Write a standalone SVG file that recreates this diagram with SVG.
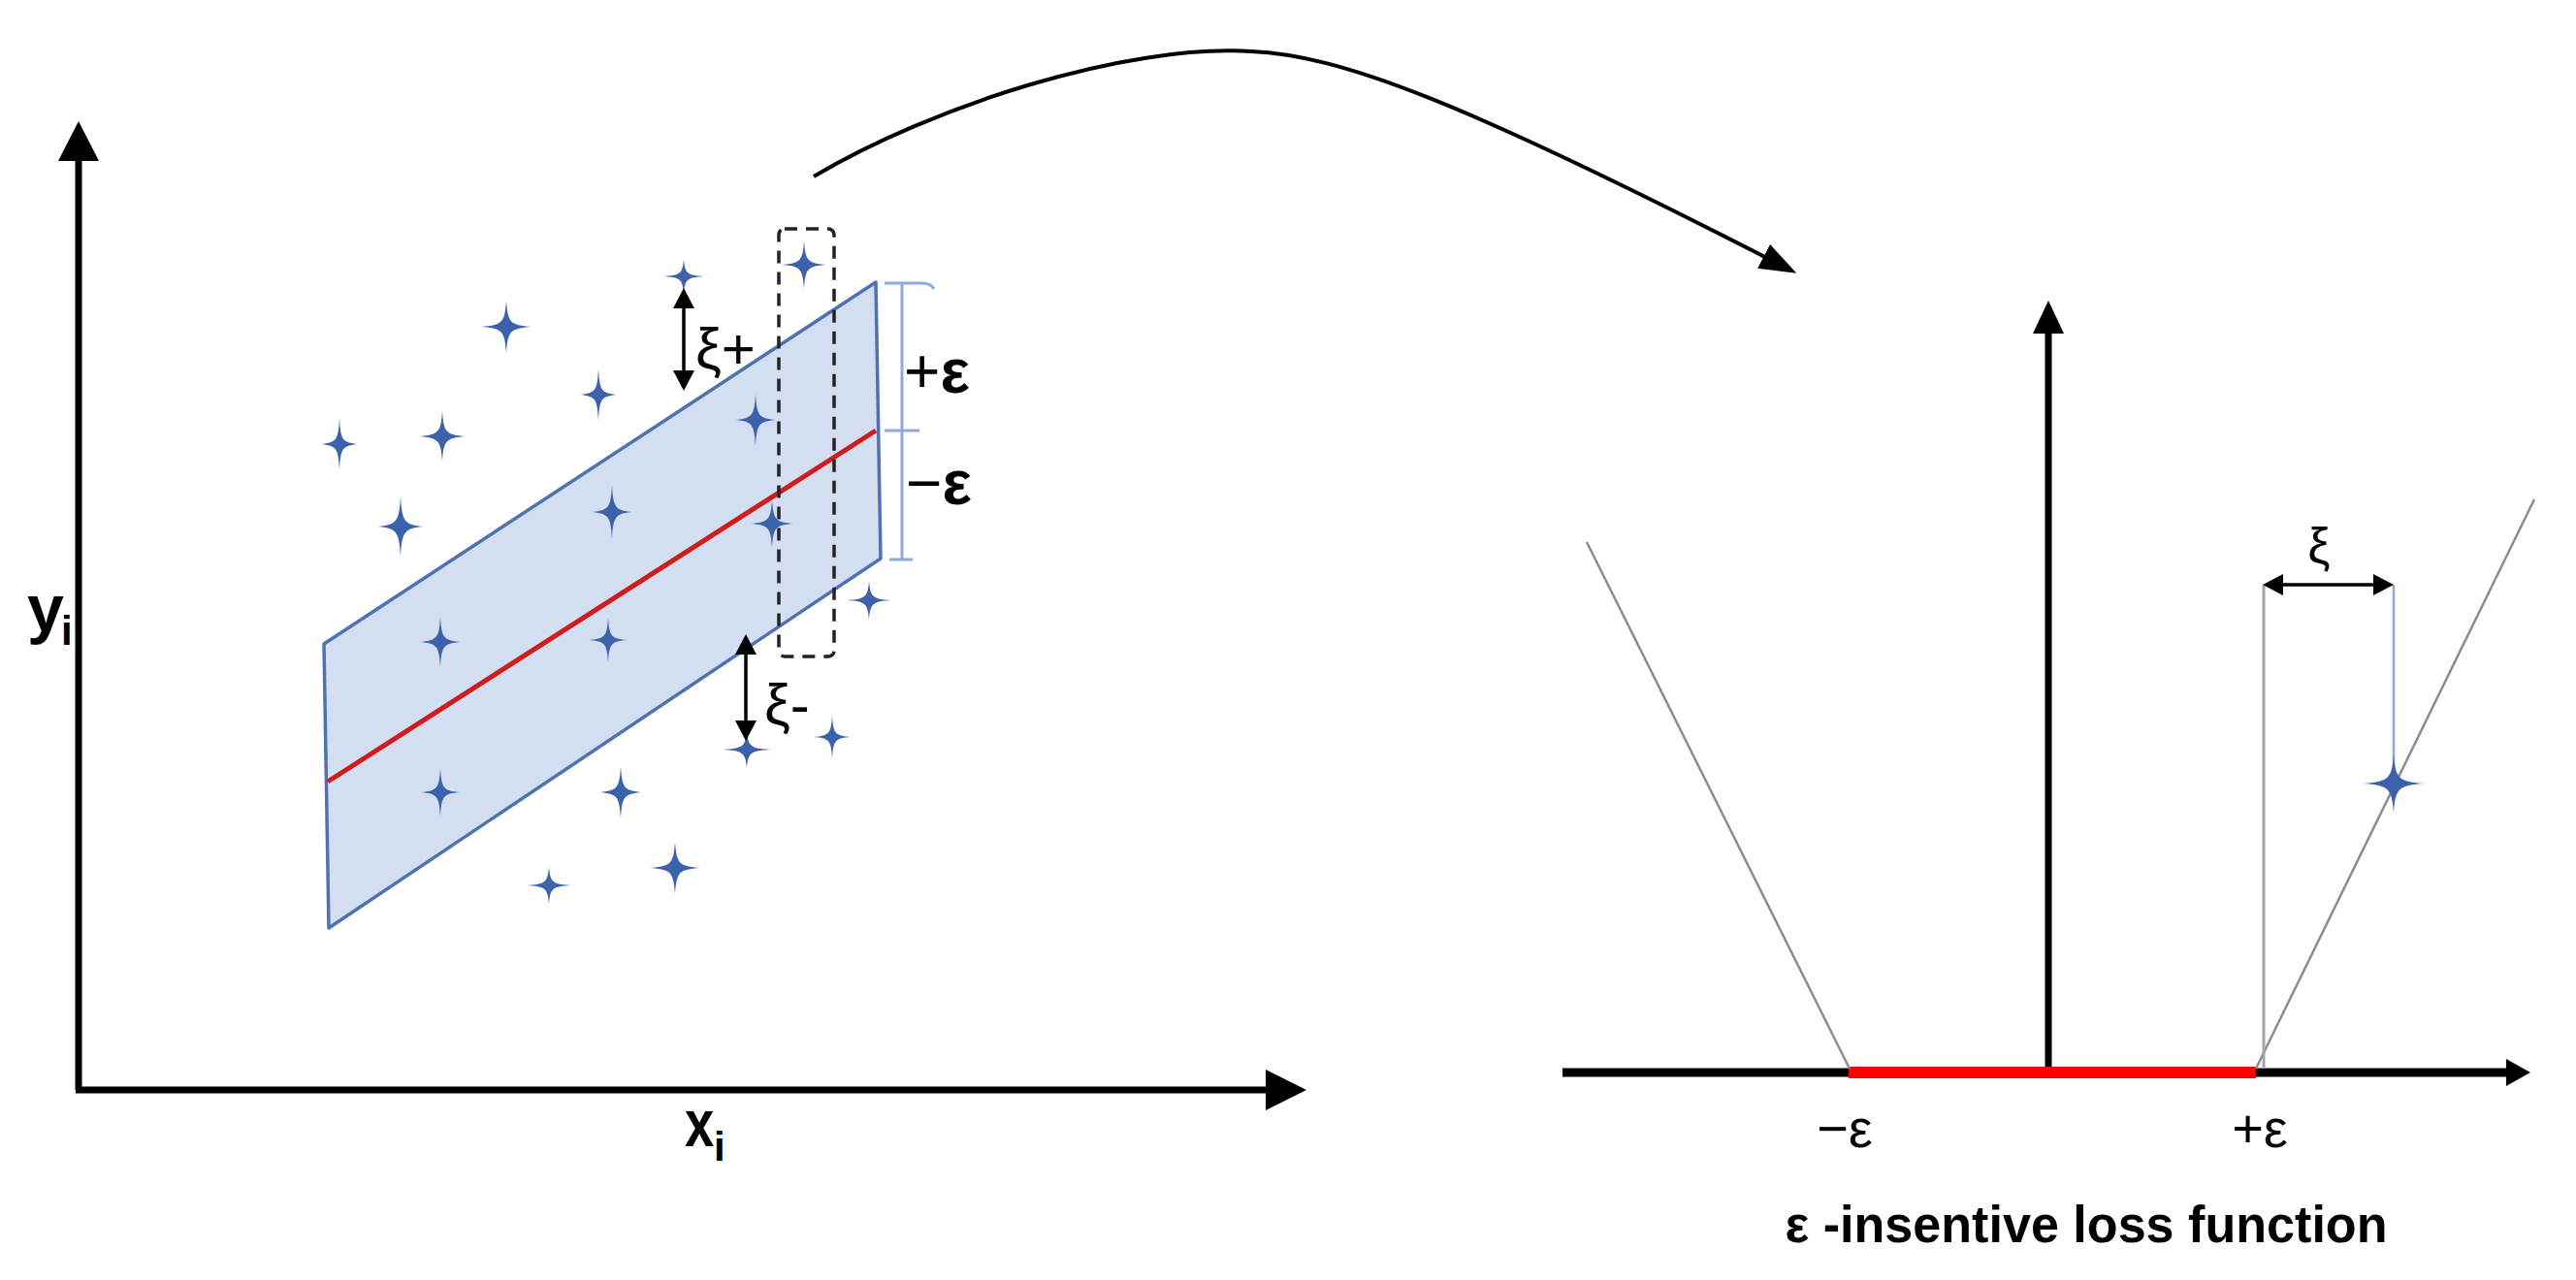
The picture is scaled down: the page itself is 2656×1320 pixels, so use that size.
<svg xmlns="http://www.w3.org/2000/svg" xmlns:xlink="http://www.w3.org/1999/xlink" width="2656" height="1320" viewBox="0 0 2656 1320">
<style>
text{font-family:"Liberation Sans",Arial,sans-serif;fill:#000}
.ax{stroke:#000;stroke-width:7;fill:none}
.star{fill:#3B62AA}
.gray{stroke:#8C8C8C;stroke-width:2.5;fill:none}
.eb{stroke:#8EAADB;stroke-width:3;fill:none}
.dim{stroke:#000;stroke-width:3.5;fill:none;marker-start:url(#sa);marker-end:url(#sa)}
</style>
<defs>
<path id="starp" d="M0,-1 C0.06,-0.16 0.16,-0.06 1,0 C0.16,0.06 0.06,0.16 0,1 C-0.06,0.16 -0.16,0.06 -1,0 C-0.16,-0.06 -0.06,-0.16 0,-1 Z"/>
<marker id="sa" markerUnits="userSpaceOnUse" markerWidth="22" markerHeight="24" refX="14" refY="12" orient="auto-start-reverse" viewBox="0 0 22 24"><path d="M0,1 L21,12 L0,23 Z" fill="#000"/></marker>
<marker id="ca" markerUnits="userSpaceOnUse" markerWidth="40" markerHeight="30" refX="32" refY="14" orient="auto" viewBox="0 0 40 30"><path d="M0,0 L38,14 L0,28 Z" fill="#000"/></marker>
</defs>
<rect width="2656" height="1320" fill="#fff"/>

<g id="left-axes">
<line class="ax" x1="81" y1="1124" x2="81" y2="160"/>
<polygon points="81,125 60,166 102,166" fill="#000"/>
<line class="ax" x1="78" y1="1124" x2="1310" y2="1124"/>
<polygon points="1347,1124 1305,1103 1305,1145" fill="#000"/>
<text x="28" y="651" font-size="68" font-weight="bold">y</text>
<text x="63" y="665" font-size="42" font-weight="bold">i</text>
<text transform="translate(706,1182) scale(0.8,1)" font-size="68" font-weight="bold">x</text>
<text x="736" y="1197" font-size="42" font-weight="bold">i</text>
</g>

<g id="band">
<polygon points="334,664 903,291 908,576 339,957" fill="#D3DFF0" stroke="#4F72B0" stroke-width="3.5" stroke-linejoin="round"/>
<line x1="338" y1="806" x2="903" y2="444" stroke="#D01C1C" stroke-width="5"/>
</g>

<g id="dashed-box">
<rect x="803" y="236" width="57" height="441" rx="6" fill="none" stroke="#222" stroke-width="3.5" stroke-dasharray="13,9"/>
</g>

<g id="stars-left">
<use href="#starp" class="star" transform="translate(705,285) scale(21,18)"/>
<use href="#starp" class="star" transform="translate(829,273) scale(23,25)"/>
<use href="#starp" class="star" transform="translate(522,337) scale(26,27)"/>
<use href="#starp" class="star" transform="translate(617,407) scale(19,27)"/>
<use href="#starp" class="star" transform="translate(350,458) scale(19,27)"/>
<use href="#starp" class="star" transform="translate(456,450) scale(24,26)"/>
<use href="#starp" class="star" transform="translate(779,433) scale(21,27)"/>
<use href="#starp" class="star" transform="translate(413,543) scale(24,31)"/>
<use href="#starp" class="star" transform="translate(631,528) scale(21,28)"/>
<use href="#starp" class="star" transform="translate(796,540) scale(22,25)"/>
<use href="#starp" class="star" transform="translate(454,662) scale(21,26)"/>
<use href="#starp" class="star" transform="translate(627,660) scale(20,23)"/>
<use href="#starp" class="star" transform="translate(896,619) scale(23,20)"/>
<use href="#starp" class="star" transform="translate(770,773) scale(25,19)"/>
<use href="#starp" class="star" transform="translate(858,760) scale(19,22)"/>
<use href="#starp" class="star" transform="translate(454,817) scale(20,25)"/>
<use href="#starp" class="star" transform="translate(640,817) scale(22,27)"/>
<use href="#starp" class="star" transform="translate(696,895) scale(26,27)"/>
<use href="#starp" class="star" transform="translate(566,913) scale(23,19)"/>
</g>

<g id="error-bar">
<line class="eb" x1="930" y1="292" x2="930" y2="577"/>
<path class="eb" d="M912,292 L950,292 Q960,292 963,298"/>
<line class="eb" x1="912" y1="444" x2="948" y2="444"/>
<line class="eb" x1="917" y1="577" x2="941" y2="577" stroke-width="4"/>
<text x="932" y="405" font-size="64">+<tspan font-weight="bold">ε</tspan></text>
<text x="934" y="520" font-size="64">−<tspan font-weight="bold">ε</tspan></text>
</g>

<g id="slack-left">
<line class="dim" x1="705" y1="304" x2="705" y2="396"/>
<text x="717" y="380" font-size="60">ξ+</text>
<line class="dim" x1="769" y1="661" x2="769" y2="757"/>
<text x="788" y="747" font-size="60">ξ-</text>
</g>

<g id="connectors">
<path d="M839,182 C960,110 1160,45 1290,53 C1380,57 1500,100 1847,279" fill="none" stroke="#000" stroke-width="4" marker-end="url(#ca)"/>
</g>

<g id="right-axes">
<line class="ax" x1="2112" y1="1106" x2="2112" y2="340" stroke-width="6"/>
<polygon points="2112,310 2096,344 2128,344" fill="#000"/>
<line x1="1611" y1="1106" x2="2588" y2="1106" stroke="#000" stroke-width="9"/>
<polygon points="2609,1106 2584,1092 2584,1120" fill="#000"/>
<line x1="1906" y1="1106" x2="2326" y2="1106" stroke="#FF0000" stroke-width="12"/>
</g>

<g id="loss-function">
<line class="gray" x1="1636" y1="559" x2="1907" y2="1102"/>
<line class="gray" x1="2613" y1="515" x2="2326" y2="1102"/>
<line x1="2334" y1="603" x2="2334" y2="1102" stroke="#A6A6A6" stroke-width="3"/>
<line x1="2468" y1="603" x2="2468" y2="808" stroke="#8EAADB" stroke-width="2.5"/>
<use href="#starp" class="star" transform="translate(2468,808) scale(32,30)"/>
<line class="dim" x1="2340" y1="603" x2="2461" y2="603"/>
<text x="2391" y="581" font-size="52" text-anchor="middle">ξ</text>
<text x="1902" y="1183" font-size="56" text-anchor="middle">−ε</text>
<text x="2330" y="1183" font-size="56" text-anchor="middle">+ε</text>
<text x="2151" y="1281" font-size="54" font-weight="bold" text-anchor="middle" textLength="621" lengthAdjust="spacingAndGlyphs">ε -insentive loss function</text>
</g>
</svg>
